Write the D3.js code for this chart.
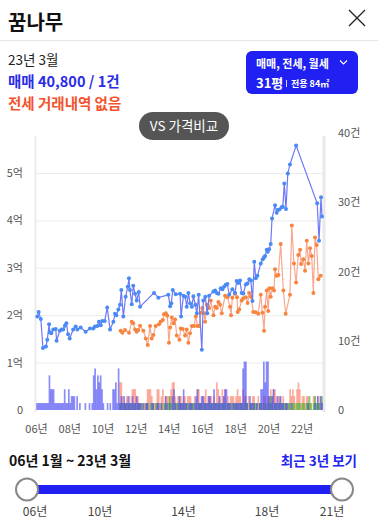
<!DOCTYPE html>
<html>
<head>
<meta charset="utf-8">
<script src="https://cdn.jsdelivr.net/npm/d3@7"></script>
<style>
  body { margin: 0; background: #fff; }
  svg { display: block; font-family: "Noto Sans CJK KR", "Noto Sans", sans-serif; }
</style>
</head>
<body>
<div id="chart"></div>
<script>
// 매매 (sale) average price points, decimal year / 억
var saleYears = [2006.02,2006.10,2006.23,2006.36,2006.54,2006.62,2006.73,2006.77,2006.86,2006.98,
  2007.13,2007.18,2007.37,2007.49,2007.58,2007.68,2007.77,2007.87,2007.97,
  2008.18,2008.33,2008.43,2008.63,2008.93,
  2009.19,2009.39,2009.49,2009.63,2009.73,2009.84,2009.93,
  2010.08,2010.23,2010.40,2010.60,2010.70,2010.78,2010.90,
  2011.00,2011.08,2011.20,2011.34,2011.47,2011.54,2011.60,2011.71,2011.80,2011.91,
  2012.01,2012.13,2012.21,2013.05,2013.31,2013.91,
  2014.02,2014.09,2014.18,2014.36,2014.62,2014.68,2014.82,2014.93,
  2015.02,2015.12,2015.22,2015.33,2015.42,2015.54,2015.63,2015.74,2015.93,
  2016.02,2016.14,2016.26,2016.37,2016.63,2016.73,2016.83,2016.93,
  2017.07,2017.17,2017.27,2017.37,2017.47,2017.58,2017.77,2017.93,
  2018.03,2018.13,2018.23,2018.33,2018.43,2018.58,2018.68,2018.79,2018.89,2018.98,
  2019.09,2019.18,2019.28,2019.48,2019.60,2019.68,2019.74,2019.84,2019.90,2019.98,
  2020.08,2020.16,2020.34,2020.44,2020.50,2020.60,2020.74,2020.81,2020.90,
  2021.00,2021.11,2021.24,2021.61,2022.88,2022.99,2023.11,2023.17];
var salePrices = [1.97,2.07,1.92,1.31,1.34,1.48,1.81,1.64,1.62,1.70,
  1.71,1.46,1.67,1.70,1.70,1.78,1.83,1.60,1.51,
  1.70,1.76,1.70,1.74,1.65,
  1.72,1.72,1.76,1.77,1.86,1.79,1.88,
  1.88,2.16,1.70,1.86,2.03,2.00,2.12,
  2.22,2.53,1.97,2.39,2.60,2.78,2.53,2.23,2.62,2.45,
  2.31,2.49,2.18,2.47,2.37,2.43,
  2.19,2.25,2.53,2.44,2.45,1.97,2.41,2.39,
  2.18,2.47,2.25,2.18,2.40,2.22,2.04,2.43,1.27,
  2.31,2.39,2.04,2.41,2.50,2.52,2.47,2.45,
  2.57,2.55,2.60,2.64,2.66,2.43,2.55,2.47,
  2.72,2.68,2.73,2.47,2.46,2.65,2.67,2.76,2.73,2.30,
  3.13,2.78,2.83,3.09,3.18,3.22,3.25,3.38,3.34,3.39,
  3.50,4.04,4.32,4.16,4.22,4.23,4.28,4.29,4.78,
  4.24,4.99,5.18,5.58,4.36,3.57,4.49,4.08];

// 전세 (jeonse) price points
var jeonseYears = [2011.04,2011.14,2011.30,2011.54,2011.71,2011.80,2011.91,
  2012.01,2012.10,2012.21,2012.41,2012.55,2012.67,2012.81,2012.91,
  2013.01,2013.15,2013.35,2013.45,2013.58,2013.65,2013.76,2013.85,2013.95,
  2014.02,2014.12,2014.22,2014.32,2014.42,2014.58,2014.66,2014.78,2014.92,
  2015.02,2015.12,2015.22,2015.33,2015.46,2015.57,2015.66,2015.76,2015.87,2015.96,
  2016.07,2016.13,2016.24,2016.37,2016.47,2016.63,2016.73,2016.83,2016.93,
  2017.03,2017.13,2017.33,2017.47,2017.63,2017.69,2017.77,2017.93,
  2018.05,2018.09,2018.18,2018.33,2018.43,2018.58,2018.69,2018.78,2018.89,
  2019.03,2019.18,2019.33,2019.48,2019.58,2019.68,2019.74,2019.84,2019.93,
  2020.00,2020.08,2020.18,2020.28,2020.34,2020.44,2020.54,2020.68,2020.84,2020.98,
  2021.24,2021.35,2021.48,2021.61,2021.74,2021.85,2021.91,
  2022.04,2022.15,2022.25,2022.35,2022.45,2022.55,2022.65,2022.75,2022.85,2022.95,2023.09];
var jeonsePrices = [1.67,1.63,1.69,1.63,1.86,1.83,1.70,
  1.65,1.69,1.78,1.67,1.51,1.37,1.77,1.51,
  1.58,1.77,1.81,1.86,1.90,2.02,2.04,1.99,1.42,
  1.74,1.95,1.83,1.91,1.57,1.48,1.72,1.71,1.57,
  1.70,1.42,1.62,1.77,1.77,1.97,1.77,1.77,2.05,2.15,
  2.04,1.86,2.22,2.15,2.31,2.00,2.18,2.15,2.28,
  2.22,2.04,2.41,2.38,2.18,2.00,2.37,2.46,
  2.38,2.07,2.12,2.31,2.36,2.38,2.26,2.47,2.39,
  2.07,2.06,2.03,2.43,2.05,1.67,2.18,2.52,2.09,
  2.57,2.39,2.57,2.52,2.97,2.83,2.85,3.50,2.52,2.03,
  2.43,3.89,3.09,2.69,3.27,3.38,3.08,
  3.18,2.94,3.57,3.09,3.41,3.25,2.47,3.64,3.48,2.76,2.83];

// monthly deal counts, from 2006-01 to 2023-03
var saleCount = [
  1,1,1,1,1,1,1,1,1,5,3,3,
  3,1,1,1,1,1,1,1,3,1,1,3,
  1,2,2,2,0,2,0,1,0,0,0,1,
  0,0,1,0,1,5,6,3,5,4,5,3,
  1,0,0,1,0,1,0,3,3,4,1,6,
  1,2,1,2,1,1,2,1,1,2,1,1,
  2,1,1,1,0,1,0,1,1,0,0,1,
  1,0,0,1,1,0,1,0,0,2,1,0,
  1,0,2,3,1,0,1,2,1,1,3,1,
  1,0,1,1,1,0,1,2,3,1,1,2,
  2,1,1,1,2,2,1,1,3,1,1,1,
  2,1,1,2,3,3,1,1,1,0,1,1,
  1,1,1,1,1,6,7,7,1,0,2,1,
  1,1,0,1,0,1,3,3,7,4,7,7,
  2,1,2,3,1,1,2,1,2,1,1,0,
  1,1,0,0,1,0,0,0,0,0,0,0,
  0,0,0,0,1,0,0,0,0,1,0,2,
  0,2,1];
var jeonseCount = [
  0,0,0,0,0,0,0,0,0,0,0,0,
  0,0,0,0,0,0,0,0,0,0,0,0,
  0,0,0,0,0,0,0,0,0,0,0,0,
  0,0,0,0,0,0,0,0,0,0,0,0,
  0,0,0,0,0,0,0,0,0,0,0,0,
  4,4,2,1,1,2,1,2,1,3,3,3,
  2,2,1,1,1,1,1,1,3,3,3,2,
  1,1,1,3,3,1,2,3,1,2,2,2,
  2,3,4,4,2,1,2,2,2,1,2,2,
  1,2,2,2,1,1,2,1,3,3,1,1,
  2,2,3,1,2,2,2,1,2,1,4,3,
  2,1,3,2,3,1,2,1,2,2,2,1,
  2,3,2,2,1,3,2,2,1,2,1,1,
  2,2,1,1,2,1,1,1,2,2,1,2,
  2,3,2,3,3,2,1,2,2,1,2,1,
  1,1,1,3,2,3,2,1,3,4,3,1,
  2,2,1,2,2,1,1,0,2,2,1,2,
  1,2,1];
var wolseCount = [
  0,0,0,0,0,0,0,0,0,0,0,0,
  0,0,0,0,0,0,0,0,0,0,0,0,
  0,0,0,0,0,0,0,0,0,0,0,0,
  0,0,0,0,0,0,0,0,0,0,0,0,
  0,0,0,0,0,0,0,0,0,0,0,0,
  1,1,0,1,1,0,1,1,0,1,0,1,
  0,1,1,0,1,0,0,1,1,0,1,0,
  1,0,1,1,0,0,1,0,1,1,0,1,
  2,1,1,0,1,1,0,1,1,0,1,0,
  1,1,0,1,1,1,0,1,0,1,1,1,
  0,1,1,0,1,1,1,0,1,1,0,1,
  1,0,1,1,1,0,1,1,0,1,1,0,
  1,1,0,1,1,0,1,1,1,0,1,1,
  0,1,1,1,0,1,1,0,1,1,0,1,
  1,2,1,0,1,1,0,1,1,0,1,1,
  1,0,1,1,0,1,1,0,1,1,1,0,
  1,1,0,1,1,2,1,0,1,2,1,1,
  1,0,2];

var priceTicks = [0, 1, 2, 3, 4, 5];
var countTicks = [0, 10, 20, 30, 40];
var yearTicks = [2006, 2008, 2010, 2012, 2014, 2016, 2018, 2020, 2022];
var sliderTicks = [6, 10, 14, 18, 21];

var W = 378, H = 524;
var plotLeft = 37, plotRight = 322, plotTop = 136, plotBottom = 410;

var svg = d3.select("#chart").append("svg")
    .attr("width", W)
    .attr("height", H);

/*Header*/
svg.append("text").attr("x", 8).attr("y", 30)
    .attr("font-size", 20).attr("font-weight", 700).attr("fill", "#111")
    .text("꿈나무");
svg.append("path").attr("d", "M349,10L365,26M365,10L349,26")
    .attr("stroke", "#222").attr("stroke-width", 1.3);
svg.append("line").attr("x1", 0).attr("x2", W).attr("y1", 40.5).attr("y2", 40.5)
    .attr("stroke", "#e6e6e6");

svg.append("text").attr("x", 8).attr("y", 65)
    .attr("font-size", 13.5).attr("fill", "#222").text("23년 3월");
svg.append("text").attr("x", 8).attr("y", 87)
    .attr("font-size", 14.5).attr("font-weight", 700).attr("fill", "#2b2bea")
    .text("매매 40,800 / 1건");
svg.append("text").attr("x", 8).attr("y", 109)
    .attr("font-size", 14.5).attr("font-weight", 700).attr("fill", "#f4532c")
    .text("전세 거래내역 없음");

/*Filter button*/
var btn = svg.append("g");
btn.append("rect").attr("x", 246).attr("y", 51).attr("width", 112).attr("height", 43)
    .attr("rx", 6).attr("fill", "#2020f2");
btn.append("text").attr("x", 256).attr("y", 68)
    .attr("font-size", 11).attr("font-weight", 700).attr("fill", "#fff")
    .text("매매, 전세, 월세");
btn.append("path").attr("d", "M340,60.5L343.5,64L347,60.5")
    .attr("fill", "none").attr("stroke", "#fff").attr("stroke-width", 1.1);
btn.append("text").attr("x", 256).attr("y", 88)
    .attr("font-size", 13).attr("font-weight", 700).attr("fill", "#fff")
    .text("31평");
btn.append("line").attr("x1", 286.5).attr("x2", 286.5).attr("y1", 80).attr("y2", 87)
    .attr("stroke", "#fff").attr("stroke-width", 0.8);
btn.append("text").attr("x", 291).attr("y", 87)
    .attr("font-size", 9).attr("font-weight", 700).attr("fill", "#fff")
    .text("전용 84㎡");

/*Scales*/
var xScale = d3.scaleLinear().domain([2006, 2023.17]).range([plotLeft, plotRight]);
var yScale = d3.scaleLinear().domain([0, 5]).range([plotBottom, 173]);
var cScale = d3.scaleLinear().domain([0, 40]).range([plotBottom, 133]);

/*Frame lines*/
svg.append("line").attr("x1", 35.5).attr("x2", 35.5).attr("y1", plotTop).attr("y2", plotBottom + 2)
    .attr("stroke", "#ececec").attr("stroke-width", 2);
svg.append("line").attr("x1", 324).attr("x2", 324).attr("y1", plotTop).attr("y2", plotBottom + 2)
    .attr("stroke", "#e8e8e8").attr("stroke-width", 3);

/*Grid*/
svg.append("g")
    .attr("transform", "translate(" + 36 + ",0)")
    .call(d3.axisRight(yScale).tickValues(priceTicks.slice(1)).tickSize(286).tickFormat(""))
    .call(function (g) { g.select(".domain").remove(); })
    .selectAll("line").attr("stroke", "#ebebeb");

/*Left axis*/
svg.append("g")
    .attr("transform", "translate(23,0)")
    .call(d3.axisLeft(yScale).tickValues(priceTicks).tickSize(0).tickPadding(0)
        .tickFormat(function (d) { return d === 0 ? "0" : d + "억"; }))
    .call(function (g) { g.select(".domain").remove(); })
    .selectAll("text").attr("font-size", 11).attr("fill", "#555")
    .attr("font-family", "'Noto Sans CJK KR', sans-serif");

/*Right axis*/
svg.append("g")
    .attr("transform", "translate(338,0)")
    .call(d3.axisRight(cScale).tickValues(countTicks).tickSize(0).tickPadding(0)
        .tickFormat(function (d) { return d === 0 ? "0" : d + "건"; }))
    .call(function (g) { g.select(".domain").remove(); })
    .selectAll("text").attr("font-size", 11).attr("fill", "#555")
    .attr("font-family", "'Noto Sans CJK KR', sans-serif");

/*X axis*/
svg.append("g")
    .attr("transform", "translate(-1," + 425 + ")")
    .call(d3.axisBottom(xScale).tickValues(yearTicks).tickSize(0).tickPadding(0)
        .tickFormat(function (d) { return String(d).slice(2) + "년"; }))
    .call(function (g) { g.select(".domain").remove(); })
    .selectAll("text").attr("font-size", 11).attr("fill", "#555")
    .attr("font-family", "'Noto Sans CJK KR', sans-serif");

/*Volume bars*/
var bw = xScale(2006 + 1 / 12) - xScale(2006) + 0.3;
function drawBars(counts, color, opacity) {
    svg.append("g").selectAll("rect")
        .data(counts.map(function (c, i) { return { i: i, c: c }; }).filter(function (d) { return d.c > 0; }))
        .join("rect")
        .attr("x", function (d) { return xScale(2006 + d.i / 12) - bw / 2; })
        .attr("width", bw)
        .attr("y", function (d) { return cScale(d.c); })
        .attr("height", function (d) { return cScale(0) - cScale(d.c); })
        .attr("fill", color)
        .attr("fill-opacity", opacity);
}
drawBars(jeonseCount, "#fb7f6a", 0.65);
drawBars(wolseCount, "#4fbf3c", 0.75);
drawBars(saleCount, "#4f4ff4", 0.65);

/*Price lines*/
function drawSeries(years, prices, lineColor, dotColor) {
    var pts = years.map(function (y, i) { return [y, prices[i]]; });
    svg.append("path")
        .datum(pts)
        .attr("fill", "none")
        .attr("stroke", lineColor)
        .attr("stroke-width", 1.2)
        .attr("d", d3.line()
            .x(function (d) { return xScale(d[0]); })
            .y(function (d) { return yScale(d[1]); }));
    svg.append("g").selectAll("circle")
        .data(pts)
        .join("circle")
        .attr("cx", function (d) { return xScale(d[0]); })
        .attr("cy", function (d) { return yScale(d[1]); })
        .attr("r", 2)
        .attr("fill", dotColor);
}
drawSeries(jeonseYears, jeonsePrices, "#f9a88f", "#f7843f");
drawSeries(saleYears, salePrices, "#6f78f6", "#4a8af4");

/*VS button*/
svg.append("rect").attr("x", 139).attr("y", 112).attr("width", 90).attr("height", 28)
    .attr("rx", 14).attr("fill", "#555");
svg.append("text").attr("x", 184).attr("y", 131).attr("text-anchor", "middle")
    .attr("font-size", 13.5).attr("fill", "#fff").text("VS 가격비교");

/*Range section*/
svg.append("text").attr("x", 9).attr("y", 466)
    .attr("font-size", 14).attr("font-weight", 700).attr("fill", "#111")
    .text("06년 1월 ~ 23년 3월");
svg.append("text").attr("x", 357).attr("y", 466).attr("text-anchor", "end")
    .attr("font-size", 13.5).attr("font-weight", 700).attr("fill", "#2424ee")
    .text("최근 3년 보기");

var sScale = d3.scaleLinear().domain([6, 10, 18, 21]).range([35, 100, 267, 332]);
svg.append("line").attr("x1", 27).attr("x2", 342).attr("y1", 489.5).attr("y2", 489.5)
    .attr("stroke", "#2020f2").attr("stroke-width", 9);
svg.append("g").selectAll("circle")
    .data([27, 342])
    .join("circle")
    .attr("cx", function (d) { return d; })
    .attr("cy", 489.5)
    .attr("r", 11)
    .attr("fill", "#fff")
    .attr("stroke", "#888")
    .attr("stroke-width", 2);
svg.append("g").selectAll("text")
    .data(sliderTicks)
    .join("text")
    .attr("x", function (d) { return sScale(d); })
    .attr("y", 516)
    .attr("text-anchor", "middle")
    .attr("font-size", 12)
    .attr("fill", "#444")
    .text(function (d) { return (d < 10 ? "0" : "") + d + "년"; });
</script>
</body>
</html>
